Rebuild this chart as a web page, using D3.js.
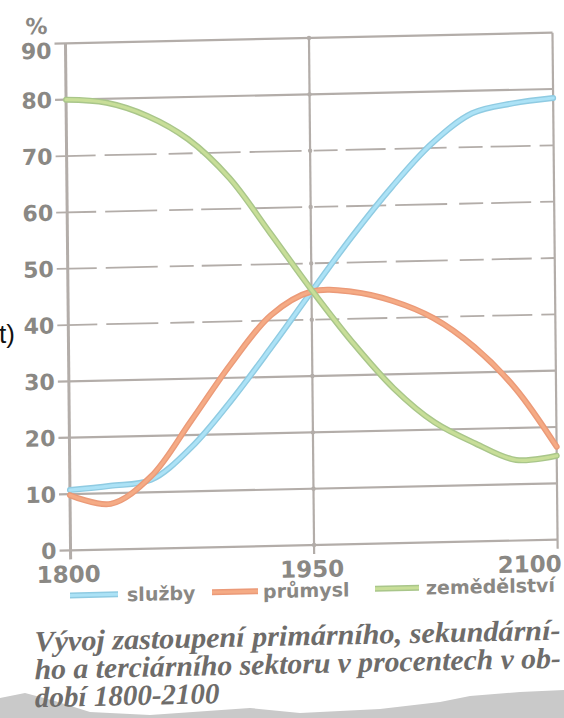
<!DOCTYPE html>
<html>
<head>
<meta charset="utf-8">
<script src="https://cdn.jsdelivr.net/npm/d3@7"></script>
<style>
  body { margin: 0; background: #fff; }
  svg { display: block; }
</style>
</head>
<body>
<svg id="chart" width="564" height="718"></svg>
<script>
// values
var years = [1800, 1825, 1850, 1875, 1900, 1925, 1950, 1975, 2000, 2025, 2050, 2075, 2100];
var sluzby = [10.7, 11.3, 12.2, 17.8, 26, 35.3, 45, 54.5, 63.2, 70.8, 76, 77.6, 78.4];
var prumysl = [9.8, 8.1, 12.8, 22.5, 32.5, 41, 45, 44.8, 43, 39.8, 34.5, 27, 16.5];
var zemedelstvi = [80, 79.3, 76.8, 72.5, 65.5, 55.5, 45.3, 35.8, 27.5, 21.3, 17.4, 14.3, 14.9];

var yTicks = [0, 10, 20, 30, 40, 50, 60, 70, 80, 90];
var xTicks = [1800, 1950, 2100];
var seriesNames = ["služby", "průmysl", "zemědělství"];
var caption = [
    "Vývoj zastoupení primárního, sekundární-",
    "ho a terciárního sektoru v procentech v ob-",
    "dobí 1800-2100"
];

var gridColor = "#b3ada9";
var labelColor = "#8a8884";
// outer (edge) and inner colour of each hand drawn line
var lineColors = [
    { edge: "#8fcbe2", core: "#ace2f6" },
    { edge: "#eb9a78", core: "#f5ab85" },
    { edge: "#a9c68a", core: "#c8de98" }
];

var svg = d3.select("#chart");

// paper shadow at the bottom of the photo
svg.append("path")
    .attr("d", "M0,698 L25,693 L55,701 L90,712 L150,715 L250,708 L300,713 L380,709 L440,702 L470,696 L520,692 L564,690 L564,718 L0,718 Z")
    .attr("fill", "#c9c9c9");

// the photo is slightly skewed, so everything sits in a sheared group
var cx = 312, cy = 290;
var g = svg.append("g")
    .attr("transform", `translate(${cx},${cy}) matrix(1,-0.022,0.01,1,0,0) translate(${-cx},${-cy})`);

var x = d3.scaleLinear().domain([1800, 2100]).range([68, 555]);
var y = d3.scaleLinear().domain([0, 90]).range([545, 38]);

// horizontal grid lines
g.selectAll(".hgrid")
    .data(yTicks)
    .enter()
    .append("line")
    .attr("class", "hgrid")
    .attr("x1", 57)
    .attr("x2", x(2100))
    .attr("y1", d => y(d))
    .attr("y2", d => y(d))
    .attr("stroke", gridColor)
    .attr("stroke-width", d => (d >= 40 && d <= 70) ? 1.8 : 2.2)
    .attr("stroke-dasharray", d => (d >= 40 && d <= 70) ? "40,9,52,12,24,8" : null);

// vertical lines at the year ticks
g.selectAll(".vgrid")
    .data(xTicks)
    .enter()
    .append("line")
    .attr("class", "vgrid")
    .attr("x1", d => x(d))
    .attr("x2", d => x(d))
    .attr("y1", y(90))
    .attr("y2", y(0) + 9)
    .attr("stroke", gridColor)
    .attr("stroke-width", d => d === 1800 ? 3 : 2.2);

// little knots where the 1950 line crosses the grid
g.selectAll(".knot")
    .data(yTicks)
    .enter()
    .append("circle")
    .attr("class", "knot")
    .attr("cx", x(1950))
    .attr("cy", d => y(d))
    .attr("r", 2.2)
    .attr("fill", gridColor);

// y labels
g.selectAll(".ylab")
    .data(yTicks)
    .enter()
    .append("text")
    .attr("class", "ylab")
    .attr("x", 54)
    .attr("y", d => y(d) + (d === 90 ? 15 : 8))
    .attr("text-anchor", "end")
    .attr("font-family", "DejaVu Sans")
    .attr("font-weight", "bold")
    .attr("font-size", 22)
    .attr("fill", labelColor)
    .text(d => d);

g.append("text")
    .attr("x", 28)
    .attr("y", 28)
    .attr("font-family", "DejaVu Sans")
    .attr("font-weight", "bold")
    .attr("font-size", 22)
    .attr("fill", labelColor)
    .text("%");

// x labels
g.selectAll(".xlab")
    .data(xTicks)
    .enter()
    .append("text")
    .attr("class", "xlab")
    .attr("x", d => d === 2100 ? x(d) + 4 : x(d) - 2)
    .attr("y", 577)
    .attr("text-anchor", d => d === 2100 ? "end" : "middle")
    .attr("font-family", "DejaVu Sans")
    .attr("font-weight", "bold")
    .attr("font-size", 23)
    .attr("fill", labelColor)
    .text(d => d);

// the three lines
var line = d3.line()
    .x((d, i) => x(years[i]))
    .y(d => y(d))
    .curve(d3.curveCatmullRom.alpha(0.5));

[sluzby, prumysl, zemedelstvi].forEach(function (vals, i) {
    g.append("path")
        .attr("d", line(vals))
        .attr("fill", "none")
        .attr("stroke", lineColors[i].edge)
        .attr("stroke-width", 6)
        .attr("stroke-linecap", "round");
    g.append("path")
        .attr("d", line(vals))
        .attr("fill", "none")
        .attr("stroke", lineColors[i].core)
        .attr("stroke-width", 3.2)
        .attr("stroke-linecap", "round");
});

// legend
var legendX = [{ sw: 67, w: 48, tx: 124 }, { sw: 209, w: 46, tx: 260 }, { sw: 372, w: 44, tx: 423 }];
var legend = g.selectAll(".leg")
    .data(seriesNames)
    .enter()
    .append("g")
    .attr("class", "leg");

legend.append("line")
    .attr("x1", (d, i) => legendX[i].sw)
    .attr("x2", (d, i) => legendX[i].sw + legendX[i].w)
    .attr("y1", 590)
    .attr("y2", 590)
    .attr("stroke", (d, i) => lineColors[i].edge)
    .attr("stroke-width", 6);
legend.append("line")
    .attr("x1", (d, i) => legendX[i].sw)
    .attr("x2", (d, i) => legendX[i].sw + legendX[i].w)
    .attr("y1", 590)
    .attr("y2", 590)
    .attr("stroke", (d, i) => lineColors[i].core)
    .attr("stroke-width", 3);
legend.append("text")
    .attr("x", (d, i) => legendX[i].tx)
    .attr("y", 597)
    .attr("font-family", "DejaVu Sans")
    .attr("font-weight", "bold")
    .attr("font-size", 19)
    .attr("fill", labelColor)
    .text(d => d);

// caption
g.selectAll(".cap")
    .data(caption)
    .enter()
    .append("text")
    .attr("class", "cap")
    .attr("x", 31)
    .attr("y", (d, i) => 645 + i * 28)
    .attr("font-family", "'Liberation Serif', 'Times New Roman', serif")
    .attr("font-style", "italic")
    .attr("font-weight", "bold")
    .attr("font-size", 29)
    .attr("fill", "#6e6c6a")
    .attr("textLength", (d, i) => i < 2 ? 526 : null)
    .attr("lengthAdjust", "spacingAndGlyphs")
    .text(d => d);

// cut-off fragment at the left edge of the photo
svg.append("text")
    .attr("x", -1)
    .attr("y", 343)
    .attr("font-family", "Liberation Sans")
    .attr("font-size", 26)
    .attr("fill", "#111")
    .text("t)");
</script>
</body>
</html>
